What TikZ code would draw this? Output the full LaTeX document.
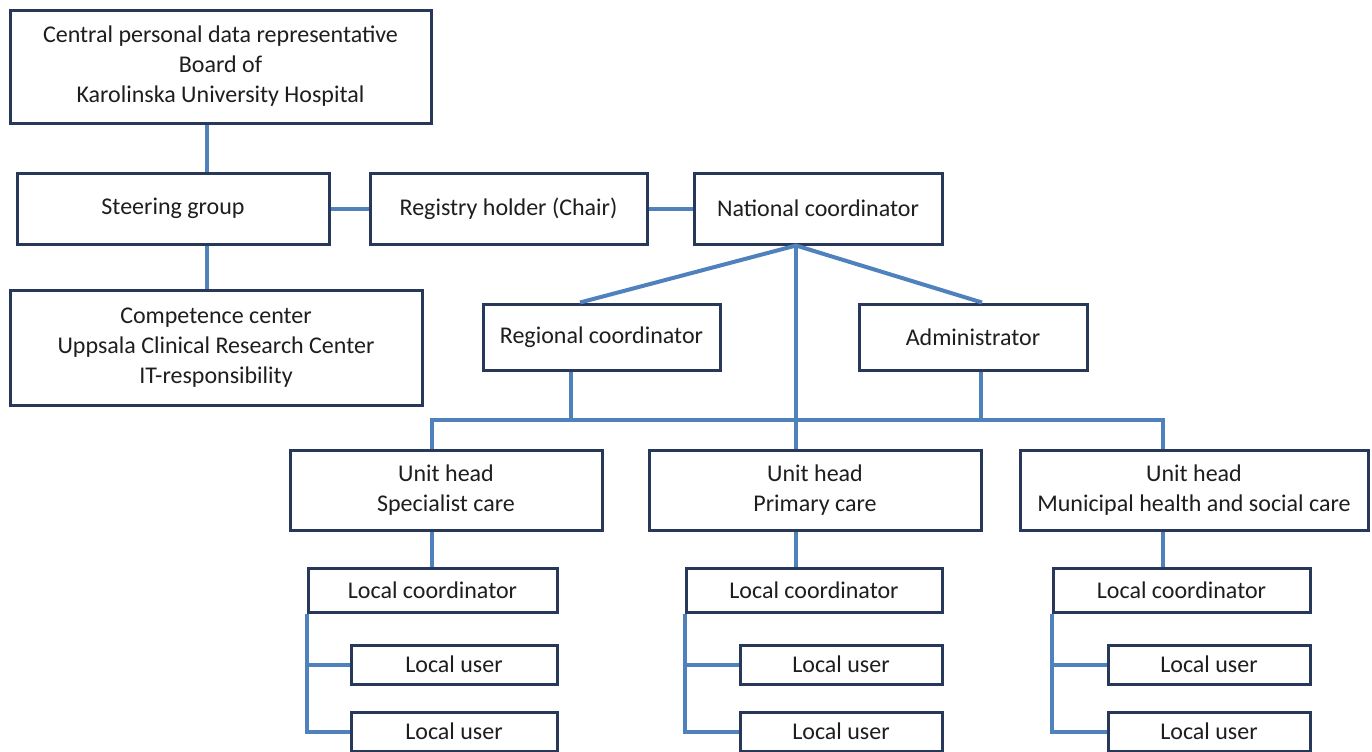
\documentclass[tikz,border=0pt]{standalone}
\usepackage{fontspec}
\setmainfont{Carlito}
\usepackage{tikz}
\usepackage{xcolor}

\definecolor{boxline}{RGB}{40,56,90}
\definecolor{linkline}{RGB}{79,129,189}
\definecolor{boxtext}{RGB}{30,30,30}

\tikzset{
  box/.style={draw=boxline, line width=1.5pt, fill=white, inner sep=0pt, align=center,
    text=boxtext, font=\fontsize{12}{15}\selectfont},
  link/.style={draw=linkline, line width=2pt}
}

\begin{document}
\begin{tikzpicture}[x=0.5pt, y=-0.5pt]
        \path[use as bounding box, clip] (0,0) rectangle (1372,751);
        % top of the organisation
        \node[box, minimum width=210.5pt, minimum height=56.5pt] (cpr) at (220.5,66.5)
            {Central personal data representative\\Board of\\Karolinska University Hospital};
        \node[box, minimum width=156pt, minimum height=35.5pt] (sg) at (173,208.5) {Steering group};
        \node[box, minimum width=138.5pt, minimum height=35.5pt] (rh) at (508.5,208.5) {Registry holder (Chair)};
        \node[box, minimum width=124pt, minimum height=35.5pt] (nc) at (818,208.5) {National coordinator};
        \node[box, minimum width=206pt, minimum height=57.5pt] (cc) at (216,347.5)
            {Competence center\\Uppsala Clinical Research Center\\IT-responsibility};
        \node[box, minimum width=118.5pt, minimum height=33pt] (rc) at (601.5,337) {Regional coordinator};
        \node[box, minimum width=114pt, minimum height=33pt] (adm) at (973,337) {Administrator};
        % unit heads
        \node[box, minimum width=156pt, minimum height=40pt] (uhs) at (446,490) {Unit head\\Specialist care};
        \node[box, minimum width=166pt, minimum height=40pt] (uhp) at (815,490) {Unit head\\Primary care};
        \node[box, minimum width=174pt, minimum height=40pt] (uhm) at (1194,490) {Unit head\\Municipal health and social care};
        % local level
        \node[box, minimum width=124.5pt, minimum height=22pt] (lcs) at (432.5,590) {Local coordinator};
        \node[box, minimum width=103pt, minimum height=19.5pt] (lus1) at (454,664.5) {Local user};
        \node[box, minimum width=103pt, minimum height=19.5pt] (lus2) at (454,731.5) {Local user};
        \node[box, minimum width=128pt, minimum height=22pt] (lcp) at (814,590) {Local coordinator};
        \node[box, minimum width=101pt, minimum height=19.5pt] (lup1) at (841,664.5) {Local user};
        \node[box, minimum width=101pt, minimum height=19.5pt] (lup2) at (841,731.5) {Local user};
        \node[box, minimum width=128.5pt, minimum height=22pt] (lcm) at (1181.5,590) {Local coordinator};
        \node[box, minimum width=101pt, minimum height=19.5pt] (lum1) at (1209,664.5) {Local user};
        \node[box, minimum width=101pt, minimum height=19.5pt] (lum2) at (1209,731.5) {Local user};

        \coordinate (spine) at (207,0);
        \coordinate (hub) at (796,0);
        \coordinate (rctop) at (580,0);
        \coordinate (admtop) at (982,0);
        \coordinate (rcdrop) at (571,0);
        \coordinate (admdrop) at (981,0);
        \coordinate (sdrop) at (432,0);
        \coordinate (mdrop) at (1163,0);
        \coordinate (bus) at (0,420);

        \draw[link] (cpr.south -| spine) -- (sg.north -| spine);
        \draw[link] (sg.south -| spine) -- (cc.north -| spine);
        \draw[link] (sg.east) -- (rh.west);
        \draw[link] (rh.east) -- (nc.west);
        \draw[link] (rc.north -| rctop) -- (nc.south -| hub) -- (adm.north -| admtop);
        \draw[link] (nc.south -| hub) -- (uhp.north -| hub);
        \draw[link] (rc.south -| rcdrop) -- (bus -| rcdrop);
        \draw[link] (adm.south -| admdrop) -- (bus -| admdrop);
        \draw[link] (uhs.north -| sdrop) -- (bus -| sdrop) -- (bus -| mdrop) -- (uhm.north -| mdrop);
        \draw[link] (uhs.south -| sdrop) -- (lcs.north -| sdrop);
        \draw[link] (uhp.south -| hub) -- (lcp.north -| hub);
        \draw[link] (uhm.south -| mdrop) -- (lcm.north -| mdrop);
        \draw[link] (lcs.south west) -- (lcs.south west |- lus2.west) -- (lus2.west);
        \draw[link] (lcs.south west |- lus1.west) -- (lus1.west);
        \draw[link] (lcp.south west) -- (lcp.south west |- lup2.west) -- (lup2.west);
        \draw[link] (lcp.south west |- lup1.west) -- (lup1.west);
        \draw[link] (lcm.south west) -- (lcm.south west |- lum2.west) -- (lum2.west);
        \draw[link] (lcm.south west |- lum1.west) -- (lum1.west);
    \end{tikzpicture}
\end{document}
